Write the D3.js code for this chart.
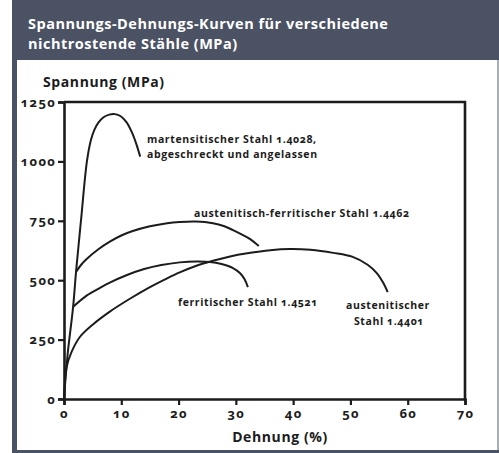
<!DOCTYPE html>
<html>
  <head>
    <meta charset="utf-8">
    <title>Spannungs-Dehnungs-Kurven</title>
    <script src="https://cdn.jsdelivr.net/npm/d3@7"></script>
    <style>
      body { margin: 0; background: #fff; }
      text { font-family: "Open Sans", Lato, sans-serif; font-weight: bold; font-feature-settings: "onum"; }
    </style>
  </head>
  <body>
    <svg width="499" height="453" id="mainsvg"></svg>
    <script>
        // Kurvenpunkte: Dehnung (%) / Spannung (MPa)
        const martensitStrain = [0, 0.6, 1.6, 2.1, 3.0, 4.0, 4.7, 5.3, 6.0, 6.9, 7.9, 8.9, 9.9, 10.9, 11.8, 12.6, 13.3];
        const martensitStress = [0, 180, 390, 535, 760, 1000, 1090, 1133, 1163, 1186, 1197, 1199, 1190, 1165, 1125, 1075, 1020];

        const duplexStrain = [2.1, 3, 4, 6, 8, 10, 12, 15, 18, 20.2, 23, 26, 28, 29.5, 31, 32.5, 34];
        const duplexStress = [535, 565, 590, 630, 662, 688, 707, 727, 740, 745, 747, 740, 727, 711, 693, 673, 644];

        const ferritStrain = [1.6, 4, 6.3, 8, 11, 14, 17, 20.2, 23, 25.5, 27.5, 29.5, 30.7, 31.5, 32.1];
        const ferritStress = [388, 436, 468, 490, 522, 547, 564, 575, 579, 577, 568, 551, 530, 505, 471];

        const austenitStrain = [0, 0.47, 1.34, 2.8, 5.1, 8, 11.5, 15, 18, 20.2, 23, 26, 29, 32, 36, 39.4, 43, 47, 50.4, 53, 54.6, 55.7, 56.5];
        const austenitStress = [0, 136, 199, 262, 315, 368, 422, 471, 508, 533, 560, 582, 600, 613, 626, 631, 628, 615, 598, 565, 530, 490, 450];

        const xTicks = [0, 10, 20, 30, 40, 50, 60, 70];
        const yTicks = [0, 250, 500, 750, 1000, 1250];

        const svg = d3.select('#mainsvg');
        const width = +svg.attr('width');
        const height = +svg.attr('height');
        const dark = '#4b5264';

        // Rahmen und Titelbalken
        svg.append('rect').attr('x', 12).attr('y', 0).attr('width', width - 12).attr('height', 60).attr('fill', dark);
        svg.append('rect').attr('x', 12).attr('y', 0).attr('width', 5).attr('height', height).attr('fill', dark);
        svg.append('rect').attr('x', 12).attr('y', 450).attr('width', width - 12).attr('height', 3).attr('fill', dark);
        svg.append('rect').attr('x', 497).attr('y', 60).attr('width', 2).attr('height', 390).attr('fill', '#a9adb8');

        svg.append('text').text('Spannungs-Dehnungs-Kurven für verschiedene')
          .attr('x', 28).attr('y', 29).attr('fill', '#fff').attr('font-size', 14.5).attr('letter-spacing', 0.5);
        svg.append('text').text('nichtrostende Stähle (MPa)')
          .attr('x', 28).attr('y', 49).attr('fill', '#fff').attr('font-size', 14.5).attr('letter-spacing', 0.5);

        const margin = {top: 102, right: 34, bottom: 54, left: 64};
        const xScale = d3.scaleLinear().domain([0, 70]).range([margin.left, width - margin.right]);
        const yScale = d3.scaleLinear().domain([0, 1250]).range([height - margin.bottom, margin.top]);

        const ink = '#1c1c1c';
        const g = svg.append('g');

        // Achsen
        const xAxis = d3.axisBottom(xScale).tickValues(xTicks).tickFormat(d3.format('d')).tickSize(6).tickPadding(4);
        const yAxis = d3.axisLeft(yScale).tickValues(yTicks).tickFormat(d3.format('d')).tickSize(6).tickPadding(2);
        const xg = g.append('g').attr('transform', `translate(0, ${yScale(0)})`).call(xAxis);
        const yg = g.append('g').attr('transform', `translate(${xScale(0)}, 0)`).call(yAxis);
        [xg, yg].forEach(a => {
          a.select('.domain').attr('stroke', ink).attr('stroke-width', 2.6);
          a.selectAll('.tick line').attr('stroke', ink).attr('stroke-width', 2.2);
          a.selectAll('.tick text').attr('fill', ink).attr('font-size', 13)
            .attr('letter-spacing', 1.3)
            .attr('font-family', '"Open Sans", sans-serif').attr('font-weight', 'bold');
        });

        // oberer und rechter Rand
        g.append('path')
          .attr('d', `M${xScale(0)},${yScale(1250)}H${xScale(70)}V${yScale(0)}`)
          .attr('fill', 'none').attr('stroke', ink).attr('stroke-width', 2.6);

        // Kurven
        const line = d3.line().x(d => xScale(d[0])).y(d => yScale(d[1])).curve(d3.curveCatmullRom.alpha(0.5));
        const curves = [
          [martensitStrain, martensitStress],
          [duplexStrain, duplexStress],
          [ferritStrain, ferritStress],
          [austenitStrain, austenitStress]
        ];
        curves.forEach(([xs, ys]) => {
          g.append('path')
            .attr('d', line(xs.map((v, i) => [v, ys[i]])))
            .attr('fill', 'none').attr('stroke', ink).attr('stroke-width', 2);
        });

        // Beschriftungen
        const label = (txt, x, y, anchor) => svg.append('text').text(txt)
          .attr('x', x).attr('y', y).attr('fill', ink).attr('font-size', 10.5)
          .attr('letter-spacing', 0.6)
          .attr('text-anchor', anchor || 'start');
        label('martensitischer Stahl 1.4028,', 147, 143);
        label('abgeschreckt und angelassen', 147, 158);
        label('austenitisch-ferritischer Stahl 1.4462', 194, 217);
        label('ferritischer Stahl 1.4521', 178, 306);
        label('austenitischer', 388, 309, 'middle');
        label('Stahl 1.4401', 389, 325, 'middle');

        svg.append('text').text('Spannung (MPa)')
          .attr('x', 43).attr('y', 87).attr('fill', ink).attr('font-size', 14).attr('letter-spacing', 0.6);
        svg.append('text').text('Dehnung (%)')
          .attr('x', 280).attr('y', 442).attr('text-anchor', 'middle').attr('fill', ink)
          .attr('font-size', 14).attr('letter-spacing', 0.6);
    </script>
  </body>
</html>
